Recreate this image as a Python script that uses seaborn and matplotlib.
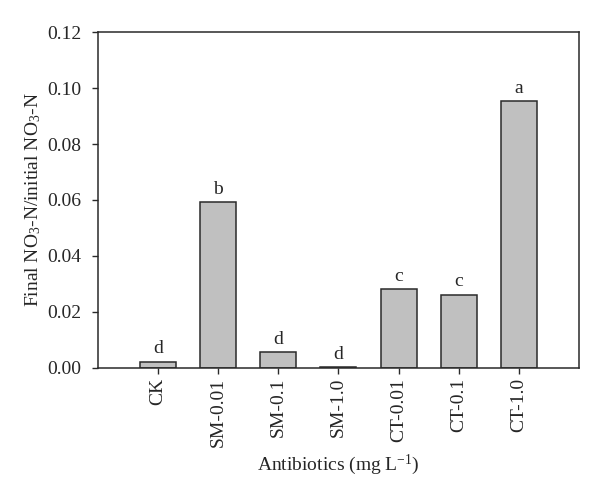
import matplotlib
matplotlib.use('Agg')
import matplotlib.pyplot as plt
import seaborn as sns
import pandas as pd

# Data
treatments = ['CK', 'SM-0.01', 'SM-0.1', 'SM-1.0', 'CT-0.01', 'CT-0.1', 'CT-1.0']
ratios = [0.0021, 0.0591, 0.0056, 0.0002, 0.0280, 0.0261, 0.0955]
letters = ['d', 'b', 'd', 'd', 'c', 'c', 'a']

df = pd.DataFrame({'treatment': treatments, 'ratio': ratios})

sns.set_style('ticks')
plt.rcParams['font.family'] = ['Liberation Serif', 'DejaVu Serif']
plt.rcParams['mathtext.fontset'] = 'custom'
plt.rcParams['mathtext.rm'] = 'Liberation Serif'
plt.rcParams['mathtext.it'] = 'Liberation Serif:italic'
plt.rcParams['mathtext.default'] = 'regular'

fig = plt.figure(figsize=(6.0, 4.98), dpi=100)
ax = fig.add_axes([0.163, 0.262, 0.802, 0.673])

sns.barplot(data=df, x='treatment', y='ratio', color='#c0c0c0',
            edgecolor='#2a2a2a', linewidth=1.1, width=0.6, saturation=1, ax=ax)

# Significance letters above each bar
for i, (val, lab) in enumerate(zip(ratios, letters)):
    ax.annotate(lab, (i, val), xytext=(0, 3), textcoords='offset points',
                ha='center', va='bottom', fontsize=14)

ax.set_xlim(-1, 7)
ax.set_ylim(0, 0.12)
ax.set_yticks([0.0, 0.02, 0.04, 0.06, 0.08, 0.10, 0.12])
ax.set_yticklabels([f'{v:.2f}' for v in ax.get_yticks()], fontsize=14)
ax.set_xticks(range(len(treatments)))
ax.set_xticklabels(treatments, rotation=90, fontsize=14)
ax.tick_params(direction='out', length=4, width=1, color='#2a2a2a')
ax.tick_params(axis='y', pad=8)

for side in ['left', 'right', 'top', 'bottom']:
    ax.spines[side].set_visible(True)
    ax.spines[side].set_linewidth(1.1)
    ax.spines[side].set_color('#2a2a2a')

ax.set_xlabel('Antibiotics (mg L$^{-1}$)', fontsize=14, labelpad=4)
ax.set_ylabel('Final NO$_3$-N/initial NO$_3$-N', fontsize=14, labelpad=3)

fig.savefig('out.png', dpi=100)
plt.close('all')
